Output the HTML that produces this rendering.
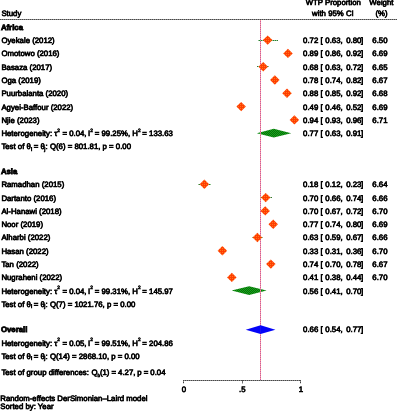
<!DOCTYPE html>
<html><head><meta charset="utf-8"><title>Forest plot</title>
<style>
html,body{margin:0;padding:0;background:#fff;}
body{width:397px;height:411px;overflow:hidden;position:relative;}
svg{position:absolute;left:0;top:0;will-change:transform;}
svg text{font-family:"Liberation Sans",sans-serif;text-rendering:geometricPrecision;fill:#000;white-space:pre;stroke:#000;stroke-width:0.66px;}
.hl{position:absolute;left:0;top:19px;width:397px;height:1px;background:repeating-linear-gradient(to right,#484848 0 1px,#8e8e8e 1px 2px);}
.ax{position:absolute;background:repeating-linear-gradient(to right,#484848 0 1px,#8e8e8e 1px 2px);}
.tk{position:absolute;width:1px;height:4px;background:linear-gradient(to bottom,#484848 0 1px,#8e8e8e 1px 2px,#404040 2px 3px,#d0d0d0 3px 4px);}
.tm{background:linear-gradient(to bottom,#484848 0 1px,#707070 1px 3px,#b8b8b8 3px 4px);}
.vl{position:absolute;left:260px;top:20px;width:1px;height:360px;background:repeating-linear-gradient(to bottom,#ff9090 0 1px,#c050a0 1px 2px);}
</style></head><body>
<div class="hl"></div>
<div class="ax" style="left:183px;top:380px;width:118px;height:1px;"></div><div class="tk" style="left:183px;top:380px;"></div><div class="tk tm" style="left:242px;top:380px;"></div><div class="tk" style="left:300px;top:380px;"></div>
<svg width="397" height="411" viewBox="0 0 397 411">
<defs>
<filter id="tb" x="0" y="0" width="397" height="411" filterUnits="userSpaceOnUse"><feGaussianBlur stdDeviation="0.3"/></filter>
<pattern id="po" width="2" height="2" patternUnits="userSpaceOnUse"><rect width="2" height="2" fill="#ff3c02"/><rect width="1" height="1" fill="#ff7818"/></pattern>
<pattern id="pg" width="2" height="2" patternUnits="userSpaceOnUse"><rect width="2" height="2" fill="#18a21e"/><rect x="1" width="1" height="1" fill="#067006"/><rect y="1" width="1" height="1" fill="#067006"/></pattern>
<pattern id="pb" width="2" height="2" patternUnits="userSpaceOnUse"><rect width="2" height="2" fill="#0404f8"/></pattern>
<pattern id="pc" width="2" height="1" patternUnits="userSpaceOnUse"><rect width="1" height="1" fill="#8cc48c"/><rect x="1" width="1" height="1" fill="#2c7a34"/></pattern>
<pattern id="pv" width="1" height="2" patternUnits="userSpaceOnUse"><rect width="1" height="1" fill="#ff9a94"/><rect y="1" width="1" height="1" fill="#c45aa8"/></pattern>
</defs>
<polygon points="256.80,133.20 273.80,128.80 291.20,133.20 273.80,137.60" fill="url(#pg)"/>
<polygon points="231.60,290.60 249.10,286.20 266.60,290.60 249.10,295.00" fill="url(#pg)"/>
<rect x="260" y="20" width="1" height="360" fill="url(#pv)" shape-rendering="crispEdges"/>
<rect x="258" y="40" width="20" height="1" fill="url(#pc)" shape-rendering="crispEdges"/>
<polygon points="262.95,40.10 267.70,35.40 272.45,40.10 267.70,44.80" fill="url(#po)"/>
<polygon points="283.20,53.40 287.95,48.70 292.70,53.40 287.95,58.10" fill="url(#po)"/>
<rect x="257" y="66" width="12" height="1" fill="url(#pc)" shape-rendering="crispEdges"/>
<polygon points="258.45,66.70 263.20,62.00 267.95,66.70 263.20,71.40" fill="url(#po)"/>
<polygon points="270.05,80.00 274.80,75.30 279.55,80.00 274.80,84.70" fill="url(#po)"/>
<polygon points="282.25,93.30 287.00,88.60 291.75,93.30 287.00,98.00" fill="url(#po)"/>
<polygon points="236.35,106.60 241.10,101.90 245.85,106.60 241.10,111.30" fill="url(#po)"/>
<polygon points="289.65,119.90 294.40,115.20 299.15,119.90 294.40,124.60" fill="url(#po)"/>
<rect x="198" y="184" width="13" height="1" fill="url(#pc)" shape-rendering="crispEdges"/>
<polygon points="199.65,184.30 204.40,179.60 209.15,184.30 204.40,189.00" fill="url(#po)"/>
<rect x="260" y="197" width="12" height="1" fill="url(#pc)" shape-rendering="crispEdges"/>
<polygon points="260.95,197.60 265.70,192.90 270.45,197.60 265.70,202.30" fill="url(#po)"/>
<polygon points="260.45,210.90 265.20,206.20 269.95,210.90 265.20,215.60" fill="url(#po)"/>
<polygon points="268.45,224.20 273.20,219.50 277.95,224.20 273.20,228.90" fill="url(#po)"/>
<rect x="252" y="237" width="11" height="1" fill="url(#pc)" shape-rendering="crispEdges"/>
<polygon points="252.65,237.50 257.40,232.80 262.15,237.50 257.40,242.20" fill="url(#po)"/>
<polygon points="217.65,250.80 222.40,246.10 227.15,250.80 222.40,255.50" fill="url(#po)"/>
<polygon points="266.05,264.10 270.80,259.40 275.55,264.10 270.80,268.80" fill="url(#po)"/>
<polygon points="227.05,277.40 231.80,272.70 236.55,277.40 231.80,282.10" fill="url(#po)"/>
<polygon points="245.70,329.70 260.60,325.30 275.40,329.70 260.60,334.10" fill="url(#pb)"/>
<rect x="260" y="326.10" width="1" height="7.2" fill="#8030e0" opacity="0.18"/>
<g filter="url(#tb)" transform="translate(0,0.25)">
<text x="1.40" y="16.10" text-anchor="start" font-size="7.8">Study</text>
<text x="333.30" y="4.55" text-anchor="middle" font-size="7.8">WTP Proportion</text>
<text x="332.90" y="16.00" text-anchor="middle" font-size="7.8">with 95% CI</text>
<text x="381.40" y="4.55" text-anchor="middle" font-size="7.8">Weight</text>
<text x="381.60" y="16.00" text-anchor="middle" font-size="7.8">(%)</text>
<text x="0.90" y="29.60" text-anchor="start" font-size="7.8" font-weight="bold" style="stroke-width:0.8px">Africa</text>
<text x="1.40" y="42.90" text-anchor="start" font-size="7.8">Oyekale (2012)</text>
<text x="303.10" y="42.90" text-anchor="start" font-size="7.8"><tspan x="303.1">0.72</tspan><tspan x="320.45">[</tspan><tspan x="325.3">0.63,</tspan><tspan x="346.15">0.80</tspan><tspan x="361.0">]</tspan></text>
<text x="372.30" y="42.90" text-anchor="start" font-size="7.8">6.50</text>
<text x="1.40" y="56.20" text-anchor="start" font-size="7.8">Omotowo (2016)</text>
<text x="303.10" y="56.20" text-anchor="start" font-size="7.8"><tspan x="303.1">0.89</tspan><tspan x="320.45">[</tspan><tspan x="325.3">0.86,</tspan><tspan x="346.15">0.92</tspan><tspan x="361.0">]</tspan></text>
<text x="372.30" y="56.20" text-anchor="start" font-size="7.8">6.69</text>
<text x="1.40" y="69.50" text-anchor="start" font-size="7.8">Basaza (2017)</text>
<text x="303.10" y="69.50" text-anchor="start" font-size="7.8"><tspan x="303.1">0.68</tspan><tspan x="320.45">[</tspan><tspan x="325.3">0.63,</tspan><tspan x="346.15">0.72</tspan><tspan x="361.0">]</tspan></text>
<text x="372.30" y="69.50" text-anchor="start" font-size="7.8">6.65</text>
<text x="1.40" y="82.80" text-anchor="start" font-size="7.8">Oga (2019)</text>
<text x="303.10" y="82.80" text-anchor="start" font-size="7.8"><tspan x="303.1">0.78</tspan><tspan x="320.45">[</tspan><tspan x="325.3">0.74,</tspan><tspan x="346.15">0.82</tspan><tspan x="361.0">]</tspan></text>
<text x="372.30" y="82.80" text-anchor="start" font-size="7.8">6.67</text>
<text x="1.40" y="96.10" text-anchor="start" font-size="7.8">Puurbalanta (2020)</text>
<text x="303.10" y="96.10" text-anchor="start" font-size="7.8"><tspan x="303.1">0.88</tspan><tspan x="320.45">[</tspan><tspan x="325.3">0.85,</tspan><tspan x="346.15">0.92</tspan><tspan x="361.0">]</tspan></text>
<text x="372.30" y="96.10" text-anchor="start" font-size="7.8">6.68</text>
<text x="1.40" y="109.40" text-anchor="start" font-size="7.8">Agyei-Baffour (2022)</text>
<text x="303.10" y="109.40" text-anchor="start" font-size="7.8"><tspan x="303.1">0.49</tspan><tspan x="320.45">[</tspan><tspan x="325.3">0.46,</tspan><tspan x="346.15">0.52</tspan><tspan x="361.0">]</tspan></text>
<text x="372.30" y="109.40" text-anchor="start" font-size="7.8">6.69</text>
<text x="1.40" y="122.70" text-anchor="start" font-size="7.8">Njie (2023)</text>
<text x="303.10" y="122.70" text-anchor="start" font-size="7.8"><tspan x="303.1">0.94</tspan><tspan x="320.45">[</tspan><tspan x="325.3">0.93,</tspan><tspan x="346.15">0.96</tspan><tspan x="361.0">]</tspan></text>
<text x="372.30" y="122.70" text-anchor="start" font-size="7.8">6.71</text>
<text x="1.40" y="136.15" text-anchor="start" font-size="7.8">Heterogeneity: τ<tspan dy="-4.3" font-size="4.8">2</tspan><tspan dy="4.3" dx="0.25"> = 0.04,</tspan><tspan dx="-0.6"> I</tspan><tspan dy="-4.3" font-size="4.8">2</tspan><tspan dy="4.3" dx="-0.35"> = 99.25%, H</tspan><tspan dy="-4.3" font-size="4.8">2</tspan><tspan dy="4.3" dx="-0.35"> = 133.63</tspan></text>
<text x="303.10" y="136.15" text-anchor="start" font-size="7.8"><tspan x="303.1">0.77</tspan><tspan x="320.45">[</tspan><tspan x="325.3">0.63,</tspan><tspan x="346.15">0.91</tspan><tspan x="361.0">]</tspan></text>
<text x="1.40" y="149.20" text-anchor="start" font-size="7.8">Test of θ<tspan dy="1.2" font-size="5">i</tspan><tspan dy="-1.2" dx="-0.5"> =</tspan><tspan> θ</tspan><tspan dy="1.2" dx="-0.4" font-size="5">j</tspan><tspan dy="-1.2">:</tspan><tspan dx="0.1"> Q(6) = 801.81, p = 0.00</tspan></text>
<text x="0.90" y="173.70" text-anchor="start" font-size="7.8" font-weight="bold" style="stroke-width:0.8px">Asia</text>
<text x="1.40" y="187.00" text-anchor="start" font-size="7.8">Ramadhan (2015)</text>
<text x="303.10" y="187.00" text-anchor="start" font-size="7.8"><tspan x="303.1">0.18</tspan><tspan x="320.45">[</tspan><tspan x="325.3">0.12,</tspan><tspan x="346.15">0.23</tspan><tspan x="361.0">]</tspan></text>
<text x="372.30" y="187.00" text-anchor="start" font-size="7.8">6.64</text>
<text x="1.40" y="200.30" text-anchor="start" font-size="7.8">Dartanto (2016)</text>
<text x="303.10" y="200.30" text-anchor="start" font-size="7.8"><tspan x="303.1">0.70</tspan><tspan x="320.45">[</tspan><tspan x="325.3">0.66,</tspan><tspan x="346.15">0.74</tspan><tspan x="361.0">]</tspan></text>
<text x="372.30" y="200.30" text-anchor="start" font-size="7.8">6.66</text>
<text x="1.40" y="213.60" text-anchor="start" font-size="7.8">Al-Hanawi (2018)</text>
<text x="303.10" y="213.60" text-anchor="start" font-size="7.8"><tspan x="303.1">0.70</tspan><tspan x="320.45">[</tspan><tspan x="325.3">0.67,</tspan><tspan x="346.15">0.72</tspan><tspan x="361.0">]</tspan></text>
<text x="372.30" y="213.60" text-anchor="start" font-size="7.8">6.70</text>
<text x="1.40" y="226.90" text-anchor="start" font-size="7.8">Noor (2019)</text>
<text x="303.10" y="226.90" text-anchor="start" font-size="7.8"><tspan x="303.1">0.77</tspan><tspan x="320.45">[</tspan><tspan x="325.3">0.74,</tspan><tspan x="346.15">0.80</tspan><tspan x="361.0">]</tspan></text>
<text x="372.30" y="226.90" text-anchor="start" font-size="7.8">6.69</text>
<text x="1.40" y="240.20" text-anchor="start" font-size="7.8">Alharbi (2022)</text>
<text x="303.10" y="240.20" text-anchor="start" font-size="7.8"><tspan x="303.1">0.63</tspan><tspan x="320.45">[</tspan><tspan x="325.3">0.59,</tspan><tspan x="346.15">0.67</tspan><tspan x="361.0">]</tspan></text>
<text x="372.30" y="240.20" text-anchor="start" font-size="7.8">6.66</text>
<text x="1.40" y="253.50" text-anchor="start" font-size="7.8">Hasan (2022)</text>
<text x="303.10" y="253.50" text-anchor="start" font-size="7.8"><tspan x="303.1">0.33</tspan><tspan x="320.45">[</tspan><tspan x="325.3">0.31,</tspan><tspan x="346.15">0.36</tspan><tspan x="361.0">]</tspan></text>
<text x="372.30" y="253.50" text-anchor="start" font-size="7.8">6.70</text>
<text x="1.40" y="266.80" text-anchor="start" font-size="7.8">Tan (2022)</text>
<text x="303.10" y="266.80" text-anchor="start" font-size="7.8"><tspan x="303.1">0.74</tspan><tspan x="320.45">[</tspan><tspan x="325.3">0.70,</tspan><tspan x="346.15">0.78</tspan><tspan x="361.0">]</tspan></text>
<text x="372.30" y="266.80" text-anchor="start" font-size="7.8">6.67</text>
<text x="1.40" y="280.10" text-anchor="start" font-size="7.8">Nugraheni (2022)</text>
<text x="303.10" y="280.10" text-anchor="start" font-size="7.8"><tspan x="303.1">0.41</tspan><tspan x="320.45">[</tspan><tspan x="325.3">0.38,</tspan><tspan x="346.15">0.44</tspan><tspan x="361.0">]</tspan></text>
<text x="372.30" y="280.10" text-anchor="start" font-size="7.8">6.70</text>
<text x="1.40" y="293.50" text-anchor="start" font-size="7.8">Heterogeneity: τ<tspan dy="-4.3" font-size="4.8">2</tspan><tspan dy="4.3" dx="0.25"> = 0.04,</tspan><tspan dx="-0.6"> I</tspan><tspan dy="-4.3" font-size="4.8">2</tspan><tspan dy="4.3" dx="-0.35"> = 99.31%, H</tspan><tspan dy="-4.3" font-size="4.8">2</tspan><tspan dy="4.3" dx="-0.35"> = 145.97</tspan></text>
<text x="303.10" y="293.50" text-anchor="start" font-size="7.8"><tspan x="303.1">0.56</tspan><tspan x="320.45">[</tspan><tspan x="325.3">0.41,</tspan><tspan x="346.15">0.70</tspan><tspan x="361.0">]</tspan></text>
<text x="1.40" y="306.70" text-anchor="start" font-size="7.8">Test of θ<tspan dy="1.2" font-size="5">i</tspan><tspan dy="-1.2" dx="-0.5"> =</tspan><tspan> θ</tspan><tspan dy="1.2" dx="-0.4" font-size="5">j</tspan><tspan dy="-1.2">:</tspan><tspan dx="0.1"> Q(7) = 1021.76, p = 0.00</tspan></text>
<text x="0.90" y="332.10" text-anchor="start" font-size="7.8" font-weight="bold" style="stroke-width:0.8px">Overall</text>
<text x="303.10" y="332.10" text-anchor="start" font-size="7.8"><tspan x="303.1">0.66</tspan><tspan x="320.45">[</tspan><tspan x="325.3">0.54,</tspan><tspan x="346.15">0.77</tspan><tspan x="361.0">]</tspan></text>
<text x="1.40" y="345.50" text-anchor="start" font-size="7.8">Heterogeneity: τ<tspan dy="-4.3" font-size="4.8">2</tspan><tspan dy="4.3" dx="0.25"> = 0.05,</tspan><tspan dx="-0.6"> I</tspan><tspan dy="-4.3" font-size="4.8">2</tspan><tspan dy="4.3" dx="-0.35"> = 99.51%, H</tspan><tspan dy="-4.3" font-size="4.8">2</tspan><tspan dy="4.3" dx="-0.35"> = 204.86</tspan></text>
<text x="1.40" y="358.70" text-anchor="start" font-size="7.8">Test of θ<tspan dy="1.2" font-size="5">i</tspan><tspan dy="-1.2" dx="-0.5"> =</tspan><tspan> θ</tspan><tspan dy="1.2" dx="-0.4" font-size="5">j</tspan><tspan dy="-1.2">:</tspan><tspan dx="0.1"> Q(14) = 2868.10, p = 0.00</tspan></text>
<text x="1.40" y="375.10" text-anchor="start" font-size="7.8">Test of group differences:<tspan dx="0.5"> Q</tspan><tspan dy="1.2" font-size="4.6">b</tspan><tspan dy="-1.2" dx="-0.2">(1) =</tspan><tspan dx="-0.2"> 4.27,</tspan><tspan dx="-0.3"> p =</tspan><tspan dx="-0.2"> 0.04</tspan></text>
<text x="183.80" y="391.60" text-anchor="middle" font-size="7.8">0</text>
<text x="242.35" y="391.60" text-anchor="middle" font-size="7.8">.5</text>
<text x="300.90" y="391.60" text-anchor="middle" font-size="7.8">1</text>
<text x="0.30" y="400.30" text-anchor="start" font-size="7.8">Random-effects DerSimonian–Laird model</text>
<text x="0.30" y="408.40" text-anchor="start" font-size="7.8">Sorted by: Year</text>
</g>
</svg>
</body></html>
